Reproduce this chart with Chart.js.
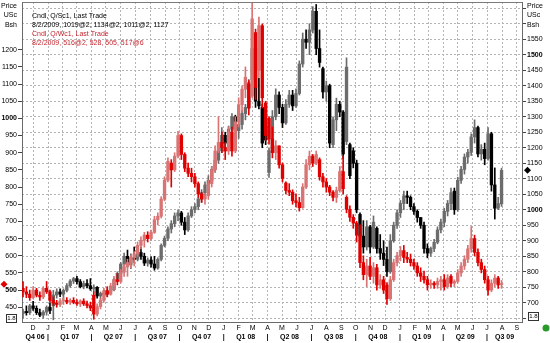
<!DOCTYPE html>
<html><head><meta charset="utf-8">
<script src="https://cdn.jsdelivr.net/npm/chart.js@4"></script>
<style>html,body{margin:0;padding:0;background:#fff;overflow:hidden}canvas{display:block}</style>
</head><body>
<canvas id="c" width="550" height="343"></canvas>
<script>
// ---------- DATA ----------
const firstWeek = Date.UTC(2006, 10, 10);      // first weekly candle
const soyOpen = [665,672,668,690,682,668,660,670,685,690,
725,735,728,740,755,770,778,768,752,762,
755,745,750,722,730,728,738,742,775,795,
825,850,822,845,840,862,850,828,838,825,
812,840,885,908,938,955,980,990,960,935,
980,1000,1010,1035,1055,1080,1095,1130,1160,1190,
1240,1215,1260,1300,1255,1275,1310,1330,1420,1520,
1350,1330,1270,1120,1190,1300,1370,1330,1280,1340,
1370,1335,1375,1470,1550,1540,1580,1640,1520,1455,
1380,1400,1210,1290,1340,1315,1220,1210,1190,1150,
985,915,880,945,880,940,875,860,840,800,
900,950,990,1020,1045,1040,1010,995,975,950,
875,860,875,895,935,960,995,1020,1060,1000,
1095,1130,1170,1185,1235,1265,1180,1195,1165,1245,
1080,1005,1019];
const soyHigh = [680,690,695,705,690,680,675,690,700,740,
745,745,745,762,775,782,785,775,770,775,
778,758,752,735,740,745,750,780,800,830,
860,870,858,880,875,880,860,845,848,850,
845,890,915,945,965,990,1000,995,975,990,
1010,1020,1040,1065,1090,1110,1140,1170,1200,1265,
1250,1270,1310,1305,1290,1320,1340,1420,1560,1530,
1425,1340,1290,1200,1320,1390,1380,1340,1355,1385,
1385,1390,1480,1570,1580,1600,1655,1662,1580,1460,
1415,1405,1300,1360,1350,1320,1490,1215,1200,1160,
990,965,965,950,980,945,920,900,880,920,
960,1000,1030,1060,1060,1045,1020,1000,975,960,
890,880,905,945,970,1005,1030,1070,1070,1105,
1140,1180,1195,1245,1290,1270,1210,1215,1265,1250,
1135,1040,1134];
const soyLow = [650,660,662,675,662,655,650,660,665,645,
715,720,712,735,750,762,760,748,745,748,
740,735,715,708,722,720,730,738,770,790,
820,815,810,830,835,840,820,818,815,805,
808,835,880,900,925,945,965,950,920,930,
975,990,1000,1025,1040,1070,1090,1120,1150,1185,
1195,1210,1245,1240,1230,1260,1290,1325,1410,1330,
1325,1200,1210,1104,1185,1290,1310,1265,1275,1330,
1320,1330,1370,1460,1520,1500,1570,1500,1460,1360,
1350,1200,1200,1255,1300,1165,1210,1100,1135,990,
900,860,870,860,875,860,840,820,785,795,
895,940,975,1000,1020,1000,985,960,940,860,
845,850,865,890,925,945,980,1000,985,995,
1085,1115,1150,1175,1215,1170,1160,1145,1160,1060,
970,1000,1011];
const soyClose = [672,668,690,682,668,660,670,685,675,725,
735,728,740,755,770,778,768,752,762,755,
745,750,722,730,728,738,742,775,795,825,
850,822,845,840,862,850,828,838,825,812,
840,885,908,938,955,980,990,960,935,980,
1000,1010,1035,1055,1080,1095,1130,1160,1190,1240,
1215,1260,1300,1255,1275,1310,1330,1410,1520,1350,
1335,1215,1225,1190,1300,1370,1330,1280,1340,1370,
1335,1375,1470,1550,1540,1580,1640,1520,1475,1380,
1400,1215,1290,1340,1315,1180,1460,1110,1150,1000,
915,880,945,880,960,875,860,840,800,900,
950,990,1020,1045,1040,1010,995,975,950,875,
860,875,895,935,960,995,1020,1055,1000,1095,
1130,1170,1185,1235,1265,1180,1195,1165,1245,1080,
1005,1020,1127];

const wheatOpen = [505,495,488,478,500,485,480,505,495,470,
462,458,468,470,465,470,464,460,468,460,
455,485,430,452,470,498,488,512,530,525,
552,568,580,595,605,630,645,660,650,668,
705,715,765,820,870,850,890,950,895,855,
840,830,810,780,765,775,810,850,905,930,
915,905,960,905,990,1040,1085,1100,1065,1250,
1140,1270,1045,1000,940,900,920,865,812,790,
785,760,755,740,800,865,890,870,880,830,
815,800,785,770,790,845,770,735,712,695,
660,580,545,570,540,565,515,530,515,475,
530,580,600,615,595,590,580,570,550,540,
530,515,520,515,525,530,510,540,520,525,
550,570,590,620,650,610,580,560,530,500,
520,535,516];
const wheatHigh = [525,510,500,510,505,495,510,525,500,480,
470,475,478,478,475,478,472,472,475,468,
465,495,460,475,505,510,520,540,548,560,
575,590,600,612,640,655,668,670,675,715,
725,772,830,885,880,900,962,955,900,870,
855,840,815,785,780,820,860,920,1005,960,
930,975,975,1005,1060,1095,1150,1110,1345,1260,
1295,1275,1050,1005,975,935,920,870,815,810,
792,780,770,810,880,905,895,905,885,840,
825,805,790,800,860,890,775,745,720,700,
690,600,590,595,580,575,545,540,522,540,
590,610,627,630,610,605,590,580,565,555,
540,530,525,535,540,545,545,545,530,560,
580,600,630,685,660,620,590,570,540,530,
545,540,528];
const wheatLow = [480,478,470,475,480,470,475,490,465,455,
450,452,458,460,458,460,455,452,455,448,
440,415,425,445,465,480,485,500,515,520,
540,540,565,570,598,620,625,640,645,665,
690,710,760,815,800,845,885,880,845,830,
815,800,770,755,750,765,800,845,900,900,
880,895,890,900,975,1020,1060,1010,1060,1055,
1120,1030,935,925,885,880,855,815,780,775,
750,742,730,738,795,850,860,865,820,800,
785,775,760,755,785,780,725,700,680,640,
565,530,510,530,520,500,505,490,458,470,
525,570,585,580,580,570,560,540,525,520,
500,505,505,505,500,500,505,510,510,520,
540,560,580,610,600,570,550,520,485,495,
510,505,505];
const wheatClose = [495,488,478,500,485,480,505,495,470,462,
458,468,470,465,470,464,460,468,460,455,
448,430,452,470,498,488,512,530,525,552,
568,580,595,605,630,645,660,650,668,705,
715,765,820,875,850,890,950,895,855,840,
830,810,780,765,775,810,850,905,930,915,
905,960,905,990,1040,1085,1120,1030,1290,1090,
1270,1060,950,940,900,920,865,825,790,785,
760,755,740,800,865,890,870,895,830,815,
800,785,770,790,845,795,735,712,695,660,
580,545,570,540,565,515,530,500,475,530,
580,600,615,595,590,580,570,550,540,530,
515,520,515,525,530,510,535,520,525,550,
570,590,620,650,610,580,560,530,500,520,
535,515,517];

const leftTickValues = [450,500,550,600,650,700,750,800,850,900,950,1000,1050,1100,1150,1200];
const leftBold = [500,1000];
const rightTickValues = [650,700,750,800,850,900,950,1000,1050,1100,1150,1200,1250,1300,1350,1400,1450,1500,1550,1600,1650];
const rightLabelValues = [700,750,800,850,900,950,1000,1050,1100,1150,1200,1250,1300,1350,1400,1450,1500,1550];
const rightBold = [1000,1500];
const monthLetters = ['J','F','M','A','M','J','J','A','S','O','N','D'];
const axisHeader = ['Price','USc','Bsh'];
const legendLines = [
  ['Cndl, Q/Sc1, Last Trade', '#000000'],
  ['8/2/2009, 1019@2, 1134@2, 1011@2, 1127', '#000000'],
  ['Cndl, Q/Wc1, Last Trade', '#c4262e'],
  ['8/2/2009, 516@2, 528, 505, 517@6', '#c4262e']
];

// ---------- helpers ----------
const DAY = 864e5;
const xMin = -2.1, xMax = 1036.5;   // days since first candle
const toDay = t => (t - firstWeek) / DAY;
const weekDays = soyClose.map((_, i) => i * 7);

const monthTicks = [];
for (let y = 2006, m = 11; ; m++) {
  if (m > 11) { m = 0; y++; }
  const d = toDay(Date.UTC(y, m, 1));
  if (d > xMax) break;
  monthTicks.push(d);
}
const quarterTicks = [];
for (let y = 2006, q = 3; ; q++) {
  if (q > 3) { q = 0; y++; }
  const s = toDay(Date.UTC(y, q * 3, 1));
  const e = toDay(Date.UTC(q === 3 ? y + 1 : y, q === 3 ? 0 : q * 3 + 3, 1));
  if (s > xMax) break;
  const mid = (Math.max(s, xMin) + Math.min(e, xMax)) / 2;
  quarterTicks.push({v: mid, t: 'Q' + (q + 1) + ' ' + String(y).slice(2)});
  if (s > xMin) quarterTicks.push({v: s, t: '|'});
}
quarterTicks.sort((a, b) => a.v - b.v);

function candleSets(O, H, L, C, up, down, axis, ord) {
  const col = C.map((c, i) => c >= O[i] ? up : down);
  return [
    {data: weekDays.map((x, i) => ({x, y: [L[i], H[i]]})), backgroundColor: col,
     barThickness: 1, grouped: false, yAxisID: axis, order: ord + 1, minBarLength: 1, borderWidth: 0},
    {data: weekDays.map((x, i) => ({x, y: [Math.min(O[i], C[i]), Math.max(O[i], C[i])]})), backgroundColor: col,
     barThickness: 2.7, grouped: false, yAxisID: axis, order: ord, minBarLength: 1, borderWidth: 0}
  ];
}

const FONT = '"Liberation Sans", Arial, sans-serif';
Chart.defaults.font.family = FONT;
Chart.defaults.font.size = 7;
Chart.defaults.color = '#000';

const decor = {
  id: 'decor',
  afterDraw(chart) {
    const {ctx, chartArea: a, scales} = chart;
    ctx.save();
    ctx.strokeStyle = '#7a7a7a'; ctx.lineWidth = 1;
    ctx.beginPath(); ctx.moveTo(a.left, a.top + 0.5); ctx.lineTo(a.right, a.top + 0.5); ctx.stroke();
    ctx.font = '7px ' + FONT; ctx.textBaseline = 'middle'; ctx.fillStyle = '#000';
    ctx.textAlign = 'right';
    axisHeader.forEach((t, k) => ctx.fillText(t, 17, 6 + k * 9.5));
    ctx.textAlign = 'left';
    axisHeader.forEach((t, k) => ctx.fillText(t, 527, 6 + k * 9.5));
    legendLines.forEach(([t, c], k) => { ctx.fillStyle = c; ctx.fillText(t, 32, 16 + k * 9); });
    // last-value markers
    const dia = (x, y, r, c) => { ctx.fillStyle = c; ctx.beginPath(); ctx.moveTo(x, y - r); ctx.lineTo(x + r, y); ctx.lineTo(x, y + r); ctx.lineTo(x - r, y); ctx.closePath(); ctx.fill(); };
    dia(4, scales.y.getPixelForValue(wheatClose[wheatClose.length - 1]), 3.5, '#e00000');
    dia(527.5, scales.y1.getPixelForValue(soyClose[soyClose.length - 1]), 3.5, '#000');
    // scale boxes
    ctx.font = '6px ' + FONT; ctx.textAlign = 'center'; ctx.fillStyle = '#000'; ctx.strokeStyle = '#333';
    ctx.strokeRect(6.5, 314.5, 10, 8); ctx.fillText('1.8', 11.5, 318.8);
    ctx.strokeRect(528.5, 312.5, 10, 8); ctx.fillText('1.8', 533.5, 316.8);
    ctx.fillStyle = '#2a9a2a'; ctx.beginPath(); ctx.arc(546, 328, 3.5, 0, Math.PI * 2); ctx.fill();
    ctx.restore();
  }
};

new Chart(document.getElementById('c'), {
  type: 'bar',
  data: {
    datasets: [
      ...candleSets(soyOpen, soyHigh, soyLow, soyClose, '#6c6c6c', '#000000', 'y1', 3),
      ...candleSets(wheatOpen, wheatHigh, wheatLow, wheatClose, '#d97474', '#e00000', 'y', 1)
    ]
  },
  options: {
    responsive: false, animation: false, devicePixelRatio: 1,
    layout: {padding: {top: 2, left: 0, right: 0, bottom: 0}},
    plugins: {legend: {display: false}, tooltip: {enabled: false}},
    scales: {
      x: {
        type: 'linear', position: 'bottom', weight: 0, min: xMin, max: xMax, bounds: 'data', offset: false,
        afterBuildTicks: s => { s.ticks = monthTicks.map(v => ({value: v})); },
        afterFit: s => { s.height = 10; s.paddingLeft = 0; s.paddingRight = 0; },
        ticks: {autoSkip: false, maxRotation: 0, minRotation: 0, padding: 2, font: {size: 7},
          callback: v => monthLetters[new Date(firstWeek + v * DAY).getUTCMonth()]},
        grid: {offset: false, color: '#b4b4b4', lineWidth: 1, drawTicks: false},
        border: {display: true, color: '#6a6a6a', dash: [2, 2]}
      },
      xq: {
        type: 'linear', position: 'bottom', weight: 1, min: xMin, max: xMax, bounds: 'data', offset: false,
        afterBuildTicks: s => { s.ticks = quarterTicks.map(q => ({value: q.v})); },
        afterFit: s => { s.height = 11; s.paddingLeft = 0; s.paddingRight = 0; },
        ticks: {autoSkip: false, maxRotation: 0, minRotation: 0, padding: 1, font: {size: 7, weight: 'bold'},
          callback: (v, i) => quarterTicks[i].t},
        grid: {display: false, drawTicks: false, offset: false},
        border: {display: false}
      },
      y: {
        type: 'linear', position: 'left', min: 407, max: 1339, bounds: 'data',
        afterBuildTicks: s => { s.ticks = leftTickValues.map(v => ({value: v})); },
        afterFit: s => { s.width = 22; s.paddingTop = 0; s.paddingBottom = 0; },
        ticks: {autoSkip: false, padding: 1, callback: v => String(v),
          font: c => ({size: 7, weight: (c.tick && leftBold.includes(c.tick.value)) ? 'bold' : 'normal'})},
        grid: {drawOnChartArea: false, drawTicks: true, tickLength: 4, tickColor: '#444', color: '#444'},
        border: {display: true, color: '#6a6a6a'}
      },
      y1: {
        type: 'linear', position: 'right', min: 638, max: 1670, bounds: 'data',
        afterBuildTicks: s => { s.ticks = rightTickValues.map(v => ({value: v})); },
        afterFit: s => { s.width = 28; s.paddingTop = 0; s.paddingBottom = 0; },
        ticks: {autoSkip: false, padding: 1,
          callback: v => rightLabelValues.includes(v) ? String(v) : '',
          font: c => ({size: 7, weight: (c.tick && rightBold.includes(c.tick.value)) ? 'bold' : 'normal'})},
        grid: {drawOnChartArea: true, color: '#b4b4b4', drawTicks: true, tickLength: 4, tickColor: '#444'},
        border: {display: true, color: '#6a6a6a', dash: [2, 2]}
      }
    }
  },
  plugins: [decor]
});
</script>
</body></html>
